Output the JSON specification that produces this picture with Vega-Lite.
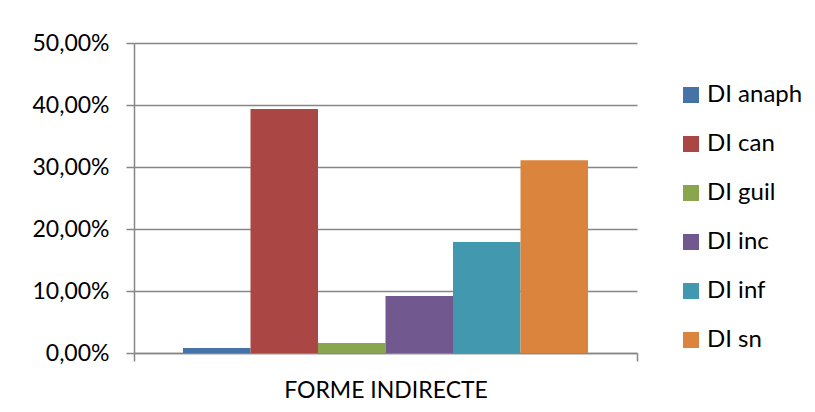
{
  "$schema": "https://vega.github.io/schema/vega-lite/v6.json",
  "width": 503,
  "height": 310,
  "autosize": {"type": "none"},
  "padding": {"left": 134, "top": 43, "right": 178, "bottom": 59},
  "background": "white",
  "config": {
    "font": "Lato",
    "view": {"stroke": null},
    "axis": {"labelFont": "Lato", "labelColor": "#000000", "domainColor": "#868686", "tickColor": "#868686"}
  },
  "data": {
    "values": [
      {"forme": "FORME INDIRECTE", "serie": "DI anaph", "valeur": 0.008},
      {"forme": "FORME INDIRECTE", "serie": "DI can", "valeur": 0.3935},
      {"forme": "FORME INDIRECTE", "serie": "DI guil", "valeur": 0.016},
      {"forme": "FORME INDIRECTE", "serie": "DI inc", "valeur": 0.092},
      {"forme": "FORME INDIRECTE", "serie": "DI inf", "valeur": 0.179},
      {"forme": "FORME INDIRECTE", "serie": "DI sn", "valeur": 0.311}
    ]
  },
  "mark": {"type": "bar"},
  "encoding": {
    "x": {
      "field": "forme",
      "type": "nominal",
      "title": null,
      "scale": {"paddingInner": 0, "paddingOuter": 0},
      "axis": {
        "labelAngle": 0,
        "labelFontSize": 23,
        "labelLimit": 0,
        "labelPadding": 18,
        "tickBand": "extent",
        "tickSize": 8,
        "tickWidth": 1.5,
        "domainWidth": 1.5
      }
    },
    "xOffset": {
      "field": "serie",
      "type": "nominal",
      "scale": {"paddingInner": 0, "paddingOuter": 0.726}
    },
    "y": {
      "field": "valeur",
      "type": "quantitative",
      "title": null,
      "scale": {"domain": [0, 0.5], "nice": false},
      "axis": {
        "values": [0, 0.1, 0.2, 0.3, 0.4, 0.5],
        "labelExpr": "replace(format(datum.value, '.2%'), '.', ',')",
        "labelFontSize": 23,
        "labelPadding": 17,
        "tickSize": 8,
        "tickWidth": 1.5,
        "domainWidth": 1.5,
        "gridColor": "#868686",
        "gridWidth": 1.5
      }
    },
    "color": {
      "field": "serie",
      "type": "nominal",
      "title": null,
      "scale": {
        "domain": ["DI anaph", "DI can", "DI guil", "DI inc", "DI inf", "DI sn"],
        "range": ["#4572A7", "#AA4643", "#89A54E", "#71588F", "#4198AF", "#DB843D"]
      },
      "legend": {
        "orient": "none",
        "legendX": 545,
        "legendY": 40,
        "symbolType": "square",
        "symbolSize": 256,
        "symbolStrokeWidth": 0,
        "labelFontSize": 24,
        "labelFont": "Lato",
        "labelColor": "#000000",
        "labelOffset": 4,
        "labelLimit": 0,
        "rowPadding": 25
      }
    }
  }
}
